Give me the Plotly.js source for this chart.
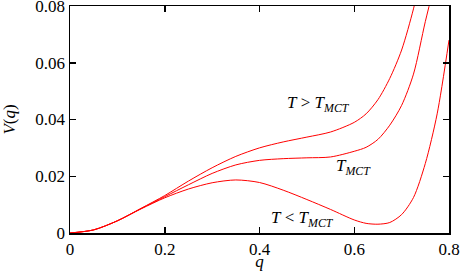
<!DOCTYPE html>
<html>
<head>
<meta charset="utf-8">
<script src="https://cdn.plot.ly/plotly-3.0.1.min.js"></script>
<style>html,body{margin:0;padding:0;background:#fff;}#chart{width:464px;height:271px;}</style>
</head>
<body>
<div id="chart"></div>
<script>
// q values and potential values
const qBelow = [0, 0.05, 0.1, 0.15, 0.2, 0.25, 0.3, 0.35, 0.4, 0.45, 0.5, 0.55, 0.6, 0.625, 0.65, 0.675, 0.7, 0.725, 0.75, 0.775, 0.8];
const vBelow = [0, 0.0011, 0.0043, 0.0085, 0.0124, 0.0155, 0.0177, 0.0187, 0.0178, 0.0151, 0.0118, 0.0083, 0.0046, 0.0034, 0.0031, 0.0037, 0.0065, 0.0125, 0.0245, 0.042, 0.068];

const qCrit = [0, 0.05, 0.1, 0.15, 0.2, 0.25, 0.3, 0.35, 0.4, 0.45, 0.5, 0.55, 0.6, 0.625, 0.65, 0.675, 0.7, 0.725, 0.75, 0.77];
const vCrit = [0, 0.0011, 0.0043, 0.0086, 0.0128, 0.0170, 0.0210, 0.0240, 0.0256, 0.0262, 0.0265, 0.0268, 0.0288, 0.0302, 0.0330, 0.0380, 0.0450, 0.0560, 0.0745, 0.088];

const qAbove = [0, 0.05, 0.1, 0.15, 0.2, 0.25, 0.3, 0.35, 0.4, 0.45, 0.5, 0.55, 0.6, 0.625, 0.65, 0.675, 0.7, 0.725, 0.74];
const vAbove = [0, 0.0011, 0.0043, 0.0087, 0.0132, 0.0183, 0.0230, 0.0270, 0.0300, 0.0321, 0.0338, 0.0356, 0.0390, 0.0420, 0.0470, 0.0545, 0.0645, 0.0790, 0.090];

const xTicks = [0, 0.2, 0.4, 0.6, 0.8];
const xTickText = ['0', '0.2', '0.4', '0.6', '0.8'];
const yTicks = [0, 0.02, 0.04, 0.06, 0.08];
const yTickText = ['0', '0.02', '0.04', '0.06', '0.08'];

const labels = [
  {text: '<i>T</i> &gt; <i>T</i><sub><i>MCT</i></sub>', q: 0.525, v: 0.0453},
  {text: '<i>T</i><sub><i>MCT</i></sub>', q: 0.598, v: 0.0232},
  {text: '<i>T</i> &lt; <i>T</i><sub><i>MCT</i></sub>', q: 0.4905, v: 0.0049}
];

const serif = 'Times New Roman';
const lineStyle = {color: '#ff0000', width: 1, shape: 'spline', smoothing: 0.8};

const traces = [
  {x: qBelow, y: vBelow, mode: 'lines', line: lineStyle, hoverinfo: 'skip'},
  {x: qCrit, y: vCrit, mode: 'lines', line: lineStyle, hoverinfo: 'skip'},
  {x: qAbove, y: vAbove, mode: 'lines', line: lineStyle, hoverinfo: 'skip'}
];

const axisCommon = {
  showgrid: false, zeroline: false, showline: true, linecolor: '#000', linewidth: 1.5,
  mirror: 'allticks', ticks: 'inside', ticklen: 6, tickwidth: 1.5, tickcolor: '#000',
  tickfont: {family: serif, size: 17, color: '#000'}, tickmode: 'array',
  ticklabeloverflow: 'allow'
};

const layout = {
  width: 464, height: 271,
  margin: {l: 70, r: 15, t: 6, b: 38},
  font: {family: serif, size: 17, color: '#000'},
  paper_bgcolor: '#fff', plot_bgcolor: '#fff',
  showlegend: false,
  xaxis: Object.assign({}, axisCommon, {
    range: [0, 0.8], tickvals: xTicks, ticktext: xTickText,
    title: {text: '<i>q</i>', font: {family: serif, size: 17, color: '#000'}, standoff: 1}
  }),
  yaxis: Object.assign({}, axisCommon, {
    range: [0, 0.08001], tickvals: yTicks, ticktext: yTickText,
    title: {text: '<i>V</i>(<i>q</i>)', font: {family: serif, size: 17, color: '#000'}, standoff: 16}
  }),
  annotations: labels.map(l => ({
    text: l.text, x: l.q, y: l.v, xref: 'x', yref: 'y', showarrow: false,
    xanchor: 'center', yanchor: 'middle',
    font: {family: serif, size: 17, color: '#000'}
  }))
};

Plotly.newPlot('chart', traces, layout, {staticPlot: true, displayModeBar: false});
</script>
</body>
</html>
